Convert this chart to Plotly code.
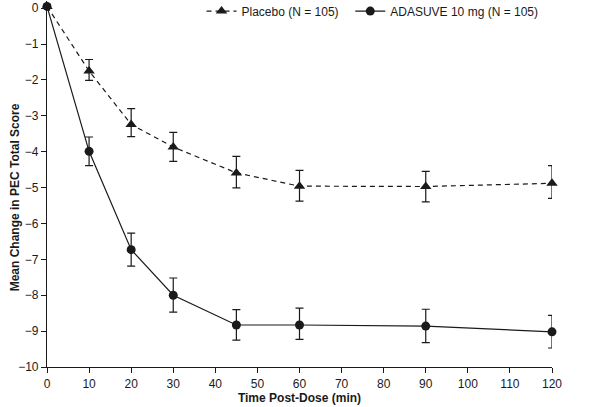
import plotly.graph_objects as go

time_min = [0, 10, 20, 30, 45, 60, 90, 120]

placebo_mean = [0.05, -1.75, -3.24, -3.87, -4.59, -4.96, -4.97, -4.88]
placebo_err_plus = [None, 0.32, 0.44, 0.41, 0.46, 0.44, 0.42, 0.49]
placebo_err_minus = [None, 0.26, 0.34, 0.40, 0.42, 0.42, 0.43, 0.42]

adasuve_mean = [0.05, -3.99, -6.73, -8.00, -8.83, -8.83, -8.86, -9.02]
adasuve_err_plus = [None, 0.40, 0.46, 0.48, 0.43, 0.47, 0.47, 0.46]
adasuve_err_minus = [None, 0.40, 0.46, 0.47, 0.42, 0.40, 0.46, 0.45]

x_ticks = [0, 10, 20, 30, 40, 50, 60, 70, 80, 90, 100, 110, 120]
y_ticks = [0, -1, -2, -3, -4, -5, -6, -7, -8, -9, -10]

FONT = "Liberation Sans, Arial, sans-serif"
INK = "#1a1a1a"

fig = go.Figure()

fig.add_trace(go.Scatter(
    x=time_min, y=adasuve_mean, name="ADASUVE 10 mg (N = 105)",
    mode="lines+markers", legendrank=2,
    line=dict(color=INK, width=1.2, dash="solid"),
    marker=dict(symbol="circle", size=9, color=INK),
    error_y=dict(type="data", symmetric=False, array=adasuve_err_plus,
                 arrayminus=adasuve_err_minus, color=INK, thickness=1.2, width=4),
    cliponaxis=False,
))

fig.add_trace(go.Scatter(
    x=time_min, y=placebo_mean, name="Placebo (N = 105)\u00a0\u00a0",
    mode="lines+markers", legendrank=1,
    line=dict(color=INK, width=1.2, dash="5px,4px"),
    marker=dict(symbol="triangle-up", size=10, color=INK),
    error_y=dict(type="data", symmetric=False, array=placebo_err_plus,
                 arrayminus=placebo_err_minus, color=INK, thickness=1.2, width=4),
    cliponaxis=False,
))

fig.update_layout(
    width=607, height=407,
    margin=dict(l=47, r=55, t=1, b=40, autoexpand=False),
    paper_bgcolor="white", plot_bgcolor="white",
    font=dict(family=FONT, size=12, color=INK),
    showlegend=True,
    legend=dict(orientation="h", x=0.306, y=1.012, xanchor="left", yanchor="top",
                font=dict(family=FONT, size=12, color=INK),
                bgcolor="rgba(0,0,0,0)", traceorder="normal"),
    xaxis=dict(range=[0, 120], tickvals=x_ticks, ticks="outside", ticklen=5,
               tickcolor=INK, showline=True, linecolor=INK, linewidth=1.2,
               showgrid=False, zeroline=False, automargin=False,
               title=dict(text="<b>Time Post-Dose (min)</b>", standoff=4,
                          font=dict(family=FONT, size=12))),
    yaxis=dict(range=[-10, 0.2], tickvals=y_ticks, ticks="outside", ticklen=5,
               tickcolor=INK, showline=True, linecolor=INK, linewidth=1.2,
               showgrid=False, zeroline=False, automargin=False),
    annotations=[dict(text="<b>Mean Change in PEC Total Score</b>",
                      xref="paper", yref="paper", x=-0.063, y=0.464,
                      xanchor="center", yanchor="middle", textangle=-90,
                      showarrow=False, font=dict(family=FONT, size=12, color=INK))],
)

fig.write_html("out.html", config={"displayModeBar": False},
               post_script="document.body.style.margin='0';")
